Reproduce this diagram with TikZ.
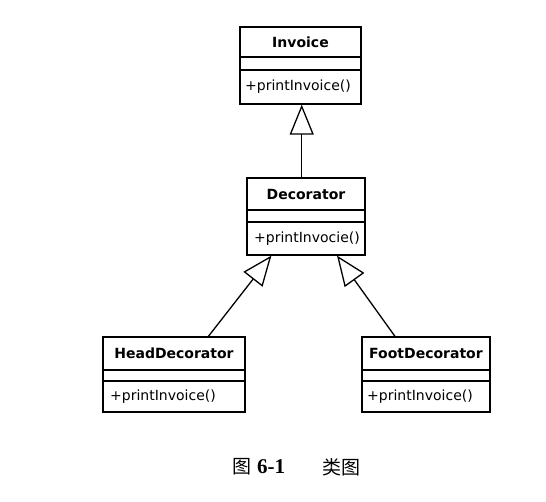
\documentclass[tikz,border=0pt]{standalone}
\usepackage{fontspec}
\setmainfont{DejaVu Sans}
\newfontfamily\cjk{Noto Sans CJK SC}
\newfontfamily\capserif{Liberation Serif}
\usetikzlibrary{arrows.meta,calc}
\tikzset{
  cls/.style={draw, rectangle, inner sep=0pt, line width=1.3pt},
  ctitle/.style={font=\fontsize{14}{16}\selectfont\bfseries, inner sep=0pt, anchor=center},
  cmeth/.style={font=\fontsize{14}{16}\selectfont, inner sep=0pt, anchor=west},
  sep/.style={line width=1.3pt},
  inh/.style={line width=1.3pt, -{Triangle[open, length=30pt, width=24pt, line width=1.3pt]}},
}
\begin{document}
\begin{tikzpicture}[x=1pt,y=-1pt]
\useasboundingbox[fill=white] (0,0) rectangle (546,502);
% Invoice
\node[cls, minimum width=121pt, minimum height=77pt] (inv) at (300.5,65.5) {};
\draw[sep] (240,57) -- (361,57);
\draw[sep] (240,70) -- (361,70);
\node[ctitle] (invt) at (300.5,42) {Invoice};
\node[cmeth] (invm) at (245,87) {+printInvoice()};
% Decorator
\node[cls, minimum width=118pt, minimum height=77pt] (dec) at (306,216.5) {};
\draw[sep] (247,210) -- (365,210);
\draw[sep] (247,222) -- (365,222);
\node[ctitle] (dect) at (306,194) {Decorator};
\node[cmeth] (decm) at (254,239) {+printInvocie()};
% HeadDecorator
\node[cls, minimum width=142pt, minimum height=75pt] (head) at (174,374.5) {};
\draw[sep] (103,370) -- (245,370);
\draw[sep] (103,381) -- (245,381);
\node[ctitle] (headt) at (174,353) {HeadDecorator};
\node[cmeth] (headm) at (110,397) {+printInvoice()};
% FootDecorator
\node[cls, minimum width=128pt, minimum height=75pt] (foot) at (426,374.5) {};
\draw[sep] (362,370) -- (490,370);
\draw[sep] (362,381) -- (490,381);
\node[ctitle] (foott) at (426,353) {FootDecorator};
\node[cmeth] (footm) at (367,397) {+printInvoice()};
% connectors
\coordinate (invin) at ($(inv.south west)!0.51!(inv.south east)$);
\draw[inh] (invin |- dec.north) -- (invin);
\draw[inh] ($(head.north west)!0.74!(head.north east)$) -- ($(dec.south west)!0.21!(dec.south east)$);
\draw[inh] ($(foot.north west)!0.26!(foot.north east)$) -- ($(dec.south west)!0.76!(dec.south east)$);
% caption
\node[inner sep=0pt, anchor=west] (cap1) at (232,467) {\cjk\fontsize{19}{21}\selectfont 图};
\node[inner sep=0pt, anchor=west] (cap2) at (257,467) {\capserif\bfseries\fontsize{21}{23}\selectfont 6-1};
\node[inner sep=0pt, anchor=west] (cap3) at (322,467) {\cjk\fontsize{19}{21}\selectfont 类图};
\end{tikzpicture}
\end{document}
